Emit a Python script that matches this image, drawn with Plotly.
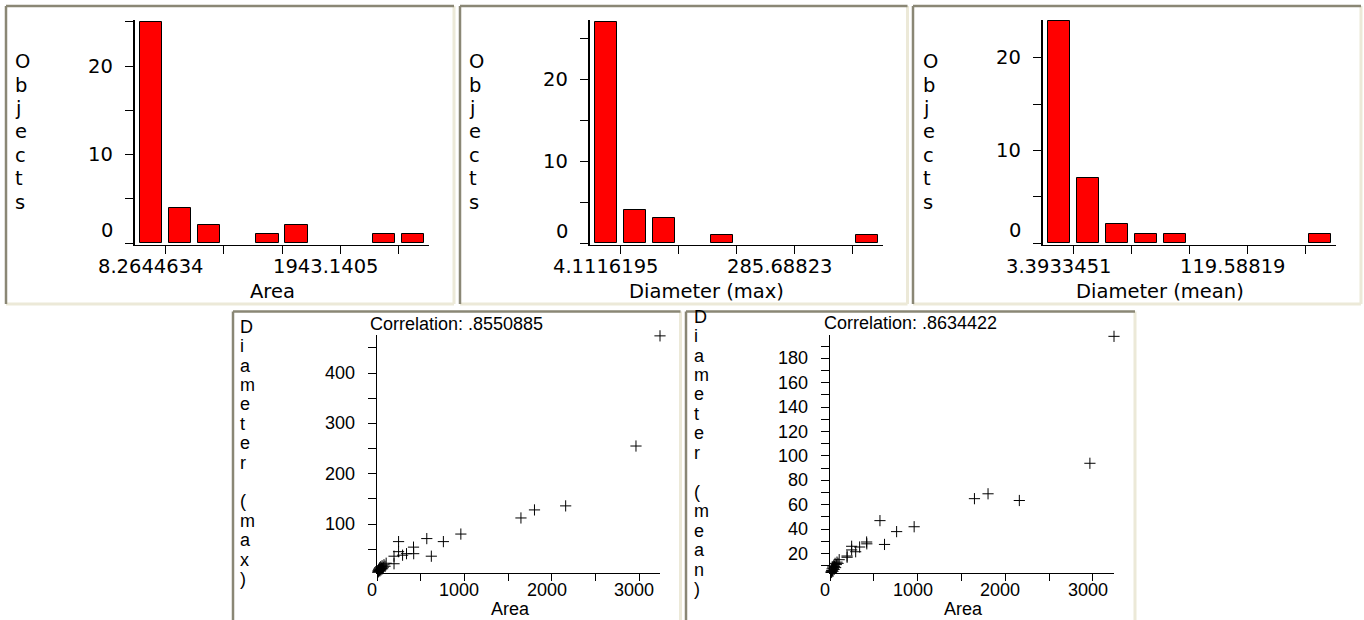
import plotly.graph_objects as go

W, H = 1364, 620

# ---------------- data ----------------
bin_index = list(range(10))
area_counts = [25, 4, 2, 0, 1, 2, 0, 0, 1, 1]
dmax_counts = [27, 4, 3, 0, 1, 0, 0, 0, 0, 1]
dmean_counts = [24, 7, 2, 1, 1, 0, 0, 0, 0, 1]
hist_names = ["Area", "Diameter (max)", "Diameter (mean)"]
hist_low_labels = ["8.2644634", "4.1116195", "3.3933451"]
hist_mid_labels = ["1943.1405", "285.68823", "119.58819"]
hist_label_bins = [0.5, 6.5]
hist_ytick_labels = [0, 10, 20]
hist_ytick_all = [0, 5, 10, 15, 20, 25]
hist_xtick_all = [0.5, 2.5, 4.5, 6.5, 8.5]

area = [3240, 2965, 2160, 1803, 1648, 960, 760, 570, 622, 247, 247, 418, 420, 338, 293, 195, 195,
        8.3, 12, 14, 18, 20, 24, 27, 30, 34, 38, 42, 47, 52, 58, 64, 72, 80, 92, 105]
diam_max = [474, 255, 136, 128, 112, 80, 65, 71, 36, 65, 45, 54, 41, 41, 38, 36, 21,
            4.1, 7, 5, 9, 6, 11, 8, 13, 7, 10, 15, 9, 12, 17, 11, 14, 19, 16, 22]
diam_mean = [198, 94, 63.5, 69, 65, 42, 38, 47, 27.5, 26, 23, 29.5, 28, 25.4, 21.5, 18, 17,
             3.4, 5, 4.5, 6, 5, 7.5, 6, 9, 5.5, 8, 10, 7, 9.5, 12, 8.5, 11, 13, 12, 15]
corr_texts = ["Correlation: .8550885", "Correlation: .8634422"]
scatter_ynames = ["Diameter (max)", "Diameter (mean)"]
scatter_xname = "Area"
s1_ytick_labels = [100, 200, 300, 400]
s1_ytick_all = [50, 100, 150, 200, 250, 300, 350, 400, 450]
s2_ytick_labels = [20, 40, 60, 80, 100, 120, 140, 160, 180]
s2_ytick_all = list(range(10, 200, 10))
scatter_xtick_labels = [0, 1000, 2000, 3000]
scatter_xtick_all = [0, 500, 1000, 1500, 2000, 2500, 3000]

# ---------------- helpers ----------------
def PX(p):
    return p / W

def PY(p):
    return 1 - p / H

HFONT = "DejaVu Sans"
HSIZE = 19.5
SFONT = "Liberation Sans"
SSIZE = 18
DARK = "#8a8775"
LIGHT = "#ece9d8"

fig = go.Figure()
annotations = []
shapes = []
layout_axes = {}

def stacked(text, xleft, y0, step, family, size):
    for i, ch in enumerate(text):
        if ch == " ":
            continue
        annotations.append(dict(text=ch, xref="paper", yref="paper", x=PX(xleft), y=PY(y0 + i * step),
                                xanchor="left", yanchor="middle", showarrow=False,
                                font=dict(family=family, size=size, color="black")))

# ---------------- histograms ----------------
hist_counts = [area_counts, dmax_counts, dmean_counts]
hist_pos = [
    dict(x0=135, x1=429, yr=[-0.226, 25.2], lx=12.7, tcx=272.5),
    dict(x0=590, x1=883, yr=[-0.24, 27.2], lx=466.7, tcx=706),
    dict(x0=1043, x1=1336, yr=[-0.216, 24.1], lx=920.7, tcx=1160),
]
for k in range(3):
    n = k + 1
    p = hist_pos[k]
    xs = [b for b, c in zip(bin_index, hist_counts[k]) if c > 0]
    ys = [c for c in hist_counts[k] if c > 0]
    fig.add_trace(go.Bar(x=xs, y=ys, width=0.76, xaxis=f"x{n}", yaxis=f"y{n}",
                         marker=dict(color="#ff0000", line=dict(color="black", width=1)),
                         showlegend=False))
    xa = "xaxis" if n == 1 else f"xaxis{n}"
    ya = "yaxis" if n == 1 else f"yaxis{n}"
    layout_axes[xa] = dict(domain=[PX(p["x0"]), PX(p["x1"])], range=[-0.55, 9.55], anchor=f"y{n}",
                           showline=True, linecolor="black", linewidth=1, showgrid=False, zeroline=False,
                           tickmode="array", tickvals=hist_xtick_all, ticks="outside", ticklen=8,
                           tickcolor="black", showticklabels=False, fixedrange=True)
    layout_axes[ya] = dict(domain=[PY(245), PY(20)], range=p["yr"], anchor=f"x{n}",
                           showline=True, linecolor="black", linewidth=2, showgrid=False, zeroline=False,
                           tickmode="array", tickvals=hist_ytick_all, ticks="outside", ticklen=8,
                           tickcolor="black", showticklabels=False, fixedrange=True)
    xd = "x domain" if n == 1 else f"x{n} domain"
    yd = "y domain" if n == 1 else f"y{n} domain"
    for v in hist_ytick_labels:
        annotations.append(dict(text=str(v), xref=xd, yref=f"y{n}", x=0, y=v, xanchor="right",
                                yanchor="middle", xshift=-20, yshift=12 if v == 0 else 0,
                                showarrow=False, font=dict(family=HFONT, size=HSIZE, color="black")))
    for lab, bx in zip([hist_low_labels[k], hist_mid_labels[k]], hist_label_bins):
        annotations.append(dict(text=lab, xref=f"x{n}", yref=yd, x=bx, y=0, xanchor="center",
                                yanchor="middle", xshift=-15, yshift=-21, showarrow=False,
                                font=dict(family=HFONT, size=HSIZE, color="black")))
    annotations.append(dict(text=hist_names[k], xref="paper", yref="paper", x=PX(p["tcx"]), y=PY(291),
                            xanchor="center", yanchor="middle", showarrow=False,
                            font=dict(family=HFONT, size=HSIZE, color="black")))
    stacked("Objects", p["lx"], 61.7, 23.4, HFONT, HSIZE)

# ---------------- scatters ----------------
scatter_y = [diam_max, diam_mean]
sc_pos = [
    dict(x0=377, x1=660, yr=[2.6, 475.7], lx=238.3, ly0=326.7, step=19.4, cx=368, cy=323.5, tcx=510,
         ylabs=s1_ytick_labels, yall=s1_ytick_all),
    dict(x0=830, x1=1114, yr=[4.1, 199.1], lx=691.7, ly0=316.7, step=19.45, cx=821.7, cy=322.7, tcx=963,
         ylabs=s2_ytick_labels, yall=s2_ytick_all),
]
for k in range(2):
    n = k + 4
    p = sc_pos[k]
    fig.add_trace(go.Scatter(x=area, y=scatter_y[k], mode="markers", xaxis=f"x{n}", yaxis=f"y{n}",
                             marker=dict(symbol="cross-thin", size=8, color="black",
                                         line=dict(color="black", width=1)),
                             cliponaxis=False, showlegend=False))
    layout_axes[f"xaxis{n}"] = dict(domain=[PX(p["x0"]), PX(p["x1"])], range=[0, 3240], anchor=f"y{n}",
                                    showline=True, linecolor="black", linewidth=1, showgrid=False,
                                    zeroline=False, tickmode="array", tickvals=scatter_xtick_all,
                                    ticks="outside", ticklen=7, tickcolor="black",
                                    showticklabels=False, fixedrange=True)
    layout_axes[f"yaxis{n}"] = dict(domain=[PY(573), PY(335)], range=p["yr"], anchor=f"x{n}",
                                    showline=True, linecolor="black", linewidth=1, showgrid=False,
                                    zeroline=False, tickmode="array", tickvals=p["yall"],
                                    ticks="outside", ticklen=8, tickcolor="black",
                                    showticklabels=False, fixedrange=True)
    for v in p["ylabs"]:
        annotations.append(dict(text=str(v), xref=f"x{n} domain", yref=f"y{n}", x=0, y=v,
                                xanchor="right", yanchor="middle", xshift=-20, showarrow=False,
                                font=dict(family=SFONT, size=SSIZE, color="black")))
    for v in scatter_xtick_labels:
        annotations.append(dict(text=str(v), xref=f"x{n}", yref=f"y{n} domain", x=v, y=0,
                                xanchor="center", yanchor="middle", xshift=-5, yshift=-17,
                                showarrow=False, font=dict(family=SFONT, size=SSIZE, color="black")))
    annotations.append(dict(text=corr_texts[k], xref="paper", yref="paper", x=PX(p["cx"]), y=PY(p["cy"]),
                            xanchor="left", yanchor="middle", showarrow=False,
                            font=dict(family=SFONT, size=SSIZE, color="black")))
    annotations.append(dict(text=scatter_xname, xref="paper", yref="paper", x=PX(p["tcx"]), y=PY(609),
                            xanchor="center", yanchor="middle", showarrow=False,
                            font=dict(family=SFONT, size=SSIZE, color="black")))
    stacked(scatter_ynames[k], p["lx"], p["ly0"], p["step"], SFONT, SSIZE)

# ---------------- panel borders ----------------
panels = [(6, 6, 454, 304), (460, 6, 907.5, 304), (913, 6, 1361, 304),
          (233, 311.5, 680.5, 630), (686, 311.5, 1135, 630)]
for (l, t, r, b) in panels:
    for (x0, y0, x1, y1, col, w) in [(r, t, r, b, LIGHT, 3), (l, b, r, b, LIGHT, 3),
                                      (l, t, l, b, DARK, 2.5), (l, t, r, t, DARK, 2.5)]:
        shapes.append(dict(type="line", xref="paper", yref="paper", x0=PX(x0), x1=PX(x1),
                           y0=PY(y0), y1=PY(y1), line=dict(color=col, width=w), layer="above"))

fig.update_layout(width=W, height=H, autosize=False, margin=dict(l=0, r=0, t=0, b=0, pad=0),
                  paper_bgcolor="white", plot_bgcolor="white", showlegend=False,
                  annotations=annotations, shapes=shapes, bargap=0, **layout_axes)

fig.write_html("out.html", config={"displayModeBar": False})
